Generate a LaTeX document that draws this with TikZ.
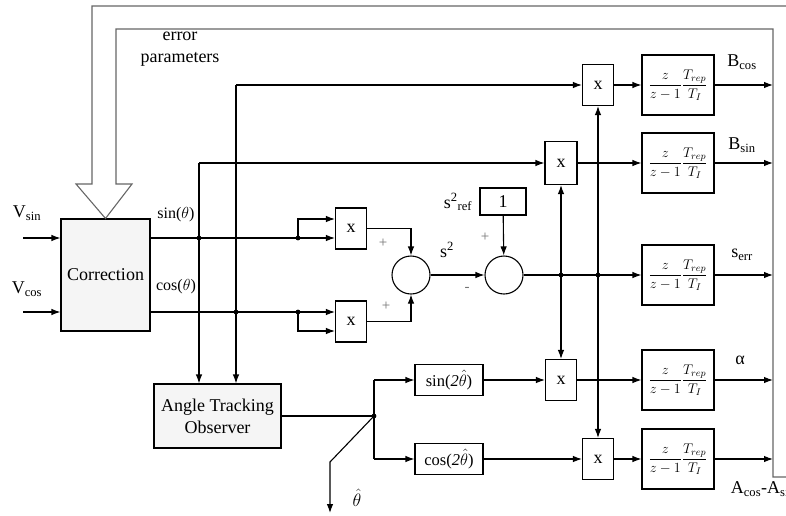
\RequirePackage{fix-cm}
\documentclass[tikz,border=0pt]{standalone}
\usepackage{fontspec}
\setmainfont{Liberation Serif}
\usetikzlibrary{arrows.meta}

\begin{document}
\begin{tikzpicture}[x=1pt, y=-1pt, line width=1.1pt, >={Latex[length=9pt,width=6.5pt]},
	every node/.style={font=\fontsize{18}{22}\selectfont},
	blk/.style={draw, inner sep=0pt},
	mul/.style={blk, fill=white, minimum width=31pt, minimum height=41pt},
	tf/.style={blk, minimum width=72pt, minimum height=60pt, font=\fontsize{14}{16}\selectfont},
	trig/.style={blk, minimum width=68pt, minimum height=31pt, font=\fontsize{16.5}{18}\selectfont},
	sumc/.style={draw, circle, minimum size=38pt, inner sep=0pt},
	sgn/.style={text=black!55, font=\fontsize{15}{15}\selectfont}]
	\useasboundingbox (0,0) rectangle (786,515);
	
	% 方框
	\node[blk, fill=black!4, minimum width=89pt, minimum height=112pt] (corr) at (105.5,275) {Correction};
	\node[blk, fill=black!4, minimum width=127pt, minimum height=64pt, align=center] (ato) at (217.5,416) {Angle Tracking\\Observer};
	\node[mul] (mS) at (351,228.5) {x};
	\node[mul] (mC) at (351,321.5) {x};
	\node[sumc] (s1) at (411,275) {};
	\node[sumc] (s2) at (504,275) {};
	\node[blk, minimum width=46pt, minimum height=27pt] (one) at (503,201.5) {1};
	\node[mul] (mBc) at (598,85) {x};
	\node[mul, minimum width=32pt, minimum height=43pt] (mBs) at (561,163) {x};
	\node[mul] (mAl) at (561,380) {x};
	\node[mul] (mAc) at (598,459) {x};
	\node[trig] (sn2) at (449,380) {sin(\textit{2}$\hat{\theta}$)};
	\node[trig] (cs2) at (449,459) {cos(\textit{2}$\hat{\theta}$)};
	\foreach \n/\y in {tfBc/85, tfBs/163, tfSe/275, tfAl/380, tfAc/459}
		\node[tf] (\n) at (678,\y) {$\displaystyle\frac{z}{z-1}\frac{T_{rep}}{T_I}$};
	
	% 分支点
	\coordinate (vS) at (23,238);
	\coordinate (vC) at (23,312);
	\coordinate (jS1) at (199,238);
	\coordinate (jS2) at (298,238);
	\coordinate (jC1) at (236,312);
	\coordinate (jC2) at (298,312);
	\coordinate (tS) at (199,163);
	\coordinate (tC) at (236,85);
	\coordinate (jE1) at (561,275);
	\coordinate (jE2) at (598,275);
	\coordinate (jO) at (374,416);
	\coordinate (kn) at (330,462);
	\coordinate (thOut) at (330,513);
	\coordinate (bus) at (773,29);
	
	% 误差参数反馈 (空心箭头)
	\draw[black!60, line join=miter] (786,6) -- (92,6) -- (92,184) -- (76,184) -- (corr.north) -- (132,184) -- (116,184) -- (116,29) -- (bus) -- (773,477) -- (786,477);
	
	% 输入与 sin/cos 信号
	\draw[->] (vS) -- (vS -| corr.west);
	\draw[->] (vC) -- (vC -| corr.west);
	\draw (corr.east |- jS1) -- (jS2);
	\draw[->] (jS2) -- ([yshift=-9.5pt]mS.west);
	\draw[->] (jS2) |- ([yshift=9.5pt]mS.west);
	\draw (corr.east |- jC2) -- (jC2);
	\draw[->] (jC2) -- ([yshift=9.5pt]mC.west);
	\draw[->] (jC2) |- ([yshift=-9.5pt]mC.west);
	\draw[->] (tS) -- (tS |- ato.north);
	\draw[->] (tS) -- (mBs.west);
	\draw[->] (tC) -- (tC |- ato.north);
	\draw[->] (tC) -- (mBc.west);
	
	% 求和
	\draw[->] (mS.east) -| (s1.north);
	\draw[->] (mC.east) -| (s1.south);
	\draw[->] (s1) -- (s2);
	\draw[->] (one) -- (s2);
	\draw[->] (s2) -- (tfSe);
	\draw[->] (jE1) -- (mBs.south);
	\draw[->] (jE1) -- (mAl.north);
	\draw[->] (jE2) -- (mBc.south);
	\draw[->] (jE2) -- (mAc.north);
	
	% 角度跟踪输出
	\draw (ato.east) -- (jO);
	\draw (jO |- sn2.west) -- (jO |- cs2.west);
	\draw[->] (jO |- sn2.west) -- (sn2.west);
	\draw[->] (jO |- cs2.west) -- (cs2.west);
	\draw[->] (jO) -- (kn) -- (thOut);
	\draw[->] (sn2) -- (mAl);
	\draw[->] (cs2) -- (mAc);
	
	% 积分器
	\draw[->] (mBc) -- (tfBc);
	\draw[->] (mBs) -- (tfBs);
	\draw[->] (mAl) -- (tfAl);
	\draw[->] (mAc) -- (tfAc);
	\foreach \n in {tfBc, tfBs, tfSe, tfAl, tfAc}
		\draw[->] (\n.east) -- (\n.east -| bus);
	
	\foreach \p in {jS1, jS2, jC1, jC2, jE1, jE2, jO}
		\fill (\p) circle (2.4pt);
	
	% 标签
	\node (lVs) at (27,213) {V\textsubscript{sin}};
	\node (lVc) at (27,289) {V\textsubscript{cos}};
	\node[align=center] (lErr) at (180,49) {error\\parameters};
	\node[font=\fontsize{16}{18}\selectfont] (lSin) at (176,215) {sin($\theta$)};
	\node[font=\fontsize{16}{18}\selectfont] (lCos) at (176,287) {cos($\theta$)};
	\node[sgn] (p1) at (383,243) {+};
	\node[sgn] (p2) at (386,306) {+};
	\node[sgn] (p3) at (485,237) {+};
	\node[sgn] (m1) at (467,289) {-};
	\node (lS2) at (447,250) {s\textsuperscript{2}};
	\node (lSref) at (458,202) {s\textsuperscript{2}\textsubscript{ref}};
	\node (lBc) at (742,62) {B\textsubscript{cos}};
	\node (lBs) at (742,145) {B\textsubscript{sin}};
	\node (lSe) at (742,255) {s\textsubscript{err}};
	\node (lAl) at (740,360) {α};
	\node[anchor=west] (lAc) at (727,489) {A\textsubscript{cos}-A\textsubscript{sin}};
	\node (lTh) at (357,498) {$\hat{\theta}$};
\end{tikzpicture}
\end{document}
